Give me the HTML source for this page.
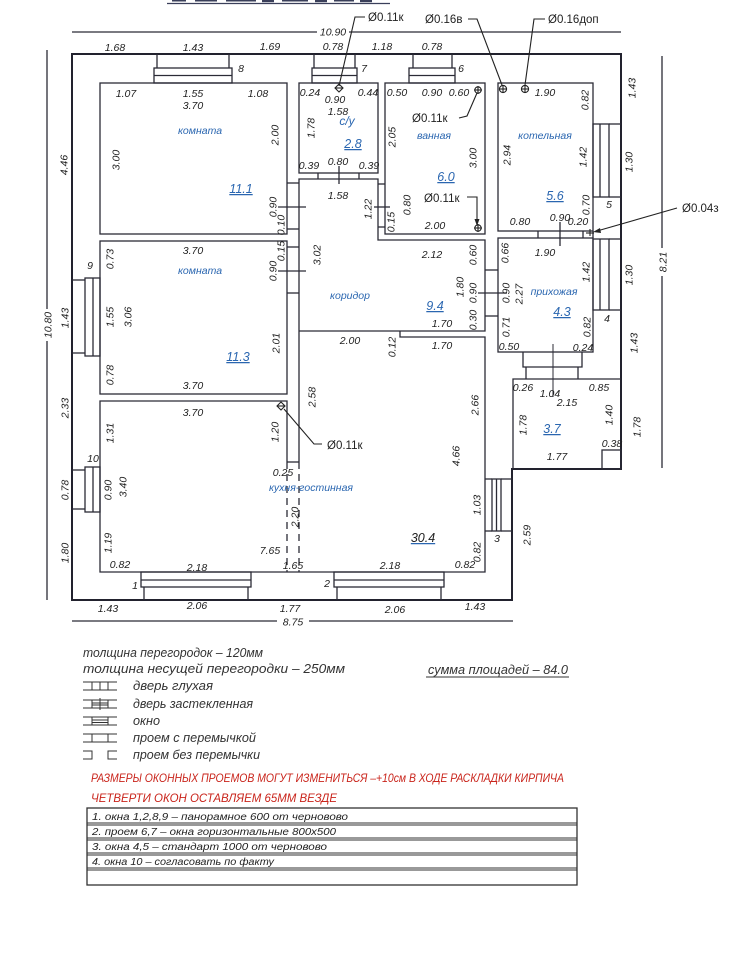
<!DOCTYPE html>
<html><head><meta charset="utf-8">
<style>
html,body{margin:0;padding:0;background:#fff;}
svg{display:block;}
.d{font-family:"Liberation Sans",sans-serif;font-style:italic;font-size:10.5px;fill:#222;}
.b{font-family:"Liberation Sans",sans-serif;font-style:italic;font-size:10.5px;fill:#2a66b0;}
.a{font-family:"Liberation Sans",sans-serif;font-style:italic;font-size:12.5px;fill:#2a66b0;text-decoration:underline;}
.p{font-family:"Liberation Sans",sans-serif;font-size:11.5px;fill:#222;}
.l{font-family:"Liberation Sans",sans-serif;font-style:italic;font-size:12.5px;fill:#333;}
.r{font-family:"Liberation Sans",sans-serif;font-style:italic;font-size:12px;fill:#c9241b;}
.t{font-family:"Liberation Sans",sans-serif;font-style:italic;font-size:10px;fill:#222;}
</style></head><body>
<svg width="733" height="960" viewBox="0 0 733 960" xmlns="http://www.w3.org/2000/svg">
<rect width="733" height="960" fill="#fff"/>

<!-- cut-off title -->
<g fill="#3a3f5a">
<line x1="167" y1="3.5" x2="390" y2="3.5" stroke="#3a3f5a" stroke-width="1.3"/>
<rect x="172" y="0" width="14" height="1.5"/><rect x="195" y="0" width="22" height="1.5"/>
<rect x="226" y="0" width="30" height="1.5"/><rect x="262" y="0" width="12" height="2.2"/>
<rect x="282" y="0" width="26" height="1.5"/><rect x="315" y="0" width="12" height="2.2"/>
<rect x="334" y="0" width="20" height="1.5"/><rect x="360" y="0" width="12" height="2.2"/>
</g>

<g stroke="#2b2b36" fill="none" stroke-width="1.3">
<!-- dimension lines -->
<line x1="72" y1="32" x2="621" y2="32"/>
<line x1="47" y1="50" x2="47" y2="600"/>
<line x1="662" y1="56" x2="662" y2="468"/>
<line x1="72" y1="621" x2="513" y2="621"/>

<!-- outer wall -->
<polygon points="72,54 621,54 621,469 512,469 512,600 72,600" stroke-width="2" stroke="#22222e"/>

<!-- rooms -->
<rect x="100" y="83" width="187" height="151"/>
<rect x="299" y="83" width="79" height="90"/>
<rect x="385" y="83" width="100" height="151"/>
<rect x="498" y="83" width="95" height="148"/>
<rect x="100" y="241" width="187" height="153"/>
<rect x="498" y="238" width="95" height="114"/>
<polyline points="621,379 513,379 513,469"/>
<polyline points="287,462 287,401 100,401 100,572 485,572 485,337 400,337 400,331"/>
<!-- corridor -->
<polyline points="299,462 299,179 378,179 378,240 485,240 485,331 299,331"/>
<line x1="287" y1="462" x2="299" y2="462"/>
<line x1="287" y1="462" x2="287" y2="572" stroke-dasharray="7,5"/>
<line x1="299" y1="462" x2="299" y2="572" stroke-dasharray="7,5"/>
<!-- 3.7 small square -->
<rect x="602" y="450" width="19" height="19"/>

<!-- doors -->
<line x1="287" y1="183" x2="299" y2="183"/><line x1="287" y1="229" x2="299" y2="229"/><line x1="278" y1="207" x2="306" y2="207"/>
<line x1="287" y1="247" x2="299" y2="247"/><line x1="287" y1="293" x2="299" y2="293"/><line x1="278" y1="271" x2="306" y2="271"/>
<line x1="318" y1="173" x2="318" y2="179"/><line x1="359" y1="173" x2="359" y2="179"/><line x1="339" y1="166" x2="339" y2="184"/>
<line x1="378" y1="184" x2="385" y2="184"/><line x1="378" y1="227" x2="385" y2="227"/><line x1="374" y1="207" x2="390" y2="207"/>
<line x1="485" y1="270" x2="498" y2="270"/><line x1="485" y1="316" x2="498" y2="316"/><line x1="478" y1="293" x2="507" y2="293"/>
<line x1="538" y1="231" x2="538" y2="238"/><line x1="583" y1="231" x2="583" y2="238"/><line x1="560" y1="222" x2="560" y2="246"/>
<line x1="593" y1="231" x2="593" y2="238"/>
<polyline points="523,352 523,367 582,367 582,352"/>
<line x1="526" y1="367" x2="526" y2="379"/><line x1="578" y1="367" x2="578" y2="379"/>
<line x1="553" y1="344" x2="553" y2="397" stroke-width="1"/>

<!-- windows top -->
<line x1="157" y1="54" x2="157" y2="68"/><line x1="229" y1="54" x2="229" y2="68"/>
<rect x="154" y="68" width="78" height="15"/><line x1="154" y1="75.5" x2="232" y2="75.5"/>
<line x1="314" y1="54" x2="314" y2="68"/><line x1="355" y1="54" x2="355" y2="68"/>
<rect x="312" y="68" width="45" height="15"/><line x1="312" y1="75.5" x2="357" y2="75.5"/>
<line x1="413" y1="54" x2="413" y2="68"/><line x1="452" y1="54" x2="452" y2="68"/>
<rect x="409" y="68" width="46" height="15"/><line x1="409" y1="75.5" x2="455" y2="75.5"/>
<!-- windows right -->
<rect x="593" y="124" width="16" height="73"/><line x1="600" y1="124" x2="600" y2="197"/>
<line x1="609" y1="124" x2="621" y2="124"/><line x1="609" y1="197" x2="621" y2="197"/>
<rect x="593" y="239" width="16" height="71"/><line x1="600" y1="239" x2="600" y2="310"/>
<line x1="609" y1="239" x2="621" y2="239"/><line x1="609" y1="310" x2="621" y2="310"/>
<!-- windows left -->
<rect x="85" y="278" width="15" height="78"/><line x1="93" y1="278" x2="93" y2="356"/>
<line x1="72" y1="280" x2="85" y2="280"/><line x1="72" y1="353" x2="85" y2="353"/>
<rect x="85" y="467" width="15" height="45"/><line x1="93" y1="467" x2="93" y2="512"/>
<line x1="72" y1="470" x2="85" y2="470"/><line x1="72" y1="509" x2="85" y2="509"/>
<!-- windows bottom -->
<rect x="141" y="572" width="110" height="15"/><line x1="141" y1="580" x2="251" y2="580"/>
<line x1="144" y1="587" x2="144" y2="600"/><line x1="248" y1="587" x2="248" y2="600"/>
<rect x="334" y="572" width="110" height="15"/><line x1="334" y1="580" x2="444" y2="580"/>
<line x1="337" y1="587" x2="337" y2="600"/><line x1="441" y1="587" x2="441" y2="600"/>
<!-- window 3 -->
<rect x="492" y="479" width="9" height="52"/><line x1="496.5" y1="479" x2="496.5" y2="531"/>
<line x1="501" y1="479" x2="512" y2="479"/><line x1="501" y1="531" x2="512" y2="531"/>
<line x1="485" y1="479" x2="492" y2="479"/><line x1="485" y1="531" x2="492" y2="531"/>
</g>

<!-- pipe leaders -->
<g stroke="#222" fill="none" stroke-width="1.1">
<polyline points="339,86 355,17 365,17"/>
<polyline points="468,19 477,19 502,85"/>
<polyline points="545,19 534,19 525,85"/>
<polyline points="459,118 467,116 477,93"/>
<polyline points="467,197 477,197 477,222"/>
<line x1="677" y1="208" x2="597" y2="231"/>
<polyline points="322,444 314,444 284,409"/>
<!-- symbols -->
<circle cx="503" cy="89" r="3.6"/><line x1="499.4" y1="89" x2="506.6" y2="89"/><line x1="503" y1="85.4" x2="503" y2="92.6"/>
<circle cx="525" cy="89" r="3.6"/><line x1="521.4" y1="89" x2="528.6" y2="89"/><line x1="525" y1="85.4" x2="525" y2="92.6"/>
<circle cx="478" cy="90" r="3.2"/><line x1="474" y1="90" x2="482" y2="90"/><line x1="478" y1="86" x2="478" y2="94"/>
<circle cx="478" cy="228" r="3.2"/><line x1="474" y1="228" x2="482" y2="228"/><line x1="478" y1="224" x2="478" y2="232"/>
<polygon points="339,84 343,88 339,92 335,88"/><line x1="335" y1="88" x2="343" y2="88"/>
<polygon points="281,402 285,406 281,410 277,406"/><line x1="277" y1="406" x2="285" y2="406"/>
<line x1="590" y1="229" x2="590" y2="236"/><line x1="586" y1="233" x2="594" y2="233"/>
</g>
<polygon points="477,226 474.5,219 479.5,219" fill="#222"/>
<polygon points="593,232 600,228 601,233" fill="#222"/>

<!-- big dimension labels -->
<rect x="317" y="26" width="32" height="11" fill="#fff"/>
<text class="d" x="333" y="32" text-anchor="middle" dy="0.35em">10.90</text>
<rect x="277" y="616" width="32" height="11" fill="#fff"/>
<text class="d" x="293" y="622" text-anchor="middle" dy="0.35em">8.75</text>
<rect x="41" y="309" width="12" height="32" fill="#fff"/>
<text class="d" transform="translate(48,325) rotate(-90)" text-anchor="middle" dy="0.35em">10.80</text>
<rect x="656" y="248" width="12" height="28" fill="#fff"/>
<text class="d" transform="translate(663,262) rotate(-90)" text-anchor="middle" dy="0.35em">8.21</text>

<g class="d" text-anchor="middle">
<!-- top -->
<text x="115" y="51">1.68</text><text x="193" y="51">1.43</text><text x="270" y="50">1.69</text>
<text x="333" y="50">0.78</text><text x="382" y="50">1.18</text><text x="432" y="50">0.78</text>
<!-- bottom -->
<text x="108" y="612">1.43</text><text x="197" y="609">2.06</text><text x="290" y="612">1.77</text>
<text x="395" y="613">2.06</text><text x="475" y="610">1.43</text>
<!-- window numbers -->
<text x="241" y="72">8</text><text x="364" y="72">7</text><text x="461" y="72">6</text>
<text x="609" y="208">5</text><text x="607" y="322">4</text><text x="90" y="269">9</text>
<text x="93" y="462">10</text><text x="135" y="589">1</text><text x="327" y="587">2</text><text x="497" y="542">3</text>
<!-- room 1 -->
<text x="126" y="97">1.07</text><text x="193" y="97">1.55</text><text x="193" y="109">3.70</text><text x="258" y="97">1.08</text>
<!-- s/u -->
<text x="310" y="96">0.24</text><text x="335" y="103">0.90</text><text x="368" y="96">0.44</text><text x="338" y="115">1.58</text>
<text x="309" y="169">0.39</text><text x="338" y="165">0.80</text><text x="369" y="169">0.39</text>
<text x="338" y="199">1.58</text>
<!-- bath -->
<text x="397" y="96">0.50</text><text x="432" y="96">0.90</text><text x="459" y="96">0.60</text><text x="435" y="229">2.00</text>
<!-- boiler -->
<text x="545" y="96">1.90</text><text x="520" y="225">0.80</text><text x="560" y="221">0.90</text><text x="578" y="225">0.20</text>
<!-- room 2 -->
<text x="193" y="254">3.70</text><text x="193" y="389">3.70</text>
<!-- corridor -->
<text x="432" y="258">2.12</text><text x="442" y="327">1.70</text><text x="350" y="344">2.00</text><text x="442" y="349">1.70</text>
<!-- hall -->
<text x="545" y="256">1.90</text><text x="509" y="350">0.50</text><text x="583" y="351">0.24</text>
<!-- 3.7 -->
<text x="523" y="391">0.26</text><text x="550" y="397">1.04</text><text x="567" y="406">2.15</text><text x="599" y="391">0.85</text>
<text x="612" y="447">0.38</text><text x="557" y="460">1.77</text>
<!-- room 3 / kitchen -->
<text x="193" y="416">3.70</text><text x="120" y="568">0.82</text><text x="197" y="571">2.18</text>
<text x="283" y="476">0.25</text><text x="270" y="554">7.65</text><text x="293" y="569">1.65</text>
<text x="390" y="569">2.18</text><text x="465" y="568">0.82</text>
</g>

<!-- vertical labels -->
<g class="d" text-anchor="middle">
<text transform="translate(64,165) rotate(-90)" dy="0.35em">4.46</text>
<text transform="translate(65,318) rotate(-90)" dy="0.35em">1.43</text>
<text transform="translate(65,408) rotate(-90)" dy="0.35em">2.33</text>
<text transform="translate(65,490) rotate(-90)" dy="0.35em">0.78</text>
<text transform="translate(65,553) rotate(-90)" dy="0.35em">1.80</text>
<text transform="translate(632,88) rotate(-90)" dy="0.35em">1.43</text>
<text transform="translate(629,162) rotate(-90)" dy="0.35em">1.30</text>
<text transform="translate(629,275) rotate(-90)" dy="0.35em">1.30</text>
<text transform="translate(634,343) rotate(-90)" dy="0.35em">1.43</text>
<text transform="translate(637,427) rotate(-90)" dy="0.35em">1.78</text>
<text transform="translate(527,535) rotate(-90)" dy="0.35em">2.59</text>
<!-- room1 -->
<text transform="translate(116,160) rotate(-90)" dy="0.35em">3.00</text>
<text transform="translate(275,135) rotate(-90)" dy="0.35em">2.00</text>
<text transform="translate(273,207) rotate(-90)" dy="0.35em">0.90</text>
<text transform="translate(281,225) rotate(-90)" dy="0.35em">0.10</text>
<!-- s/u -->
<text transform="translate(311,128) rotate(-90)" dy="0.35em">1.78</text>
<text transform="translate(368,209) rotate(-90)" dy="0.35em">1.22</text>
<!-- bath -->
<text transform="translate(392,137) rotate(-90)" dy="0.35em">2.05</text>
<text transform="translate(473,158) rotate(-90)" dy="0.35em">3.00</text>
<text transform="translate(407,205) rotate(-90)" dy="0.35em">0.80</text>
<text transform="translate(391,222) rotate(-90)" dy="0.35em">0.15</text>
<!-- boiler -->
<text transform="translate(585,100) rotate(-90)" dy="0.35em">0.82</text>
<text transform="translate(507,155) rotate(-90)" dy="0.35em">2.94</text>
<text transform="translate(583,157) rotate(-90)" dy="0.35em">1.42</text>
<text transform="translate(586,205) rotate(-90)" dy="0.35em">0.70</text>
<!-- room 2 -->
<text transform="translate(110,259) rotate(-90)" dy="0.35em">0.73</text>
<text transform="translate(281,251) rotate(-90)" dy="0.35em">0.15</text>
<text transform="translate(273,271) rotate(-90)" dy="0.35em">0.90</text>
<text transform="translate(110,317) rotate(-90)" dy="0.35em">1.55</text>
<text transform="translate(128,317) rotate(-90)" dy="0.35em">3.06</text>
<text transform="translate(276,343) rotate(-90)" dy="0.35em">2.01</text>
<text transform="translate(110,375) rotate(-90)" dy="0.35em">0.78</text>
<!-- corridor -->
<text transform="translate(317,255) rotate(-90)" dy="0.35em">3.02</text>
<text transform="translate(473,255) rotate(-90)" dy="0.35em">0.60</text>
<text transform="translate(460,287) rotate(-90)" dy="0.35em">1.80</text>
<text transform="translate(473,293) rotate(-90)" dy="0.35em">0.90</text>
<text transform="translate(473,320) rotate(-90)" dy="0.35em">0.30</text>
<text transform="translate(392,347) rotate(-90)" dy="0.35em">0.12</text>
<!-- hall -->
<text transform="translate(505,253) rotate(-90)" dy="0.35em">0.66</text>
<text transform="translate(586,272) rotate(-90)" dy="0.35em">1.42</text>
<text transform="translate(506,293) rotate(-90)" dy="0.35em">0.90</text>
<text transform="translate(519,294) rotate(-90)" dy="0.35em">2.27</text>
<text transform="translate(506,327) rotate(-90)" dy="0.35em">0.71</text>
<text transform="translate(587,327) rotate(-90)" dy="0.35em">0.82</text>
<!-- 3.7 -->
<text transform="translate(523,425) rotate(-90)" dy="0.35em">1.78</text>
<text transform="translate(609,415) rotate(-90)" dy="0.35em">1.40</text>
<!-- kitchen -->
<text transform="translate(312,397) rotate(-90)" dy="0.35em">2.58</text>
<text transform="translate(475,405) rotate(-90)" dy="0.35em">2.66</text>
<text transform="translate(456,456) rotate(-90)" dy="0.35em">4.66</text>
<text transform="translate(477,505) rotate(-90)" dy="0.35em">1.03</text>
<text transform="translate(477,552) rotate(-90)" dy="0.35em">0.82</text>
<text transform="translate(295,517) rotate(-90)" dy="0.35em">2.20</text>
<!-- room 3 -->
<text transform="translate(110,433) rotate(-90)" dy="0.35em">1.31</text>
<text transform="translate(275,432) rotate(-90)" dy="0.35em">1.20</text>
<text transform="translate(108,490) rotate(-90)" dy="0.35em">0.90</text>
<text transform="translate(123,487) rotate(-90)" dy="0.35em">3.40</text>
<text transform="translate(108,543) rotate(-90)" dy="0.35em">1.19</text>
</g>

<!-- room names -->
<g class="b" text-anchor="middle">
<text x="200" y="134">комната</text>
<text x="200" y="274">комната</text>
<text x="347" y="125" font-size="12">с/у</text>
<text x="434" y="139">ванная</text>
<text x="545" y="139">котельная</text>
<text x="350" y="299">коридор</text>
<text x="554" y="295">прихожая</text>
<text x="311" y="491">кухня-гостинная</text>
</g>
<g class="a" text-anchor="middle">
<text x="241" y="193">11.1</text>
<text x="353" y="148">2.8</text>
<text x="446" y="181">6.0</text>
<text x="555" y="200">5.6</text>
<text x="435" y="310">9.4</text>
<text x="562" y="316">4.3</text>
<text x="238" y="361">11.3</text>
<text x="552" y="433">3.7</text>
<text x="423" y="542" style="fill:#222">30.4</text>
</g>

<!-- pipe labels -->
<g class="p">
<text x="368" y="21">Ø0.11к</text>
<text x="425" y="23">Ø0.16в</text>
<text x="548" y="23">Ø0.16доп</text>
<text x="412" y="122">Ø0.11к</text>
<text x="424" y="202">Ø0.11к</text>
<text x="682" y="212">Ø0.04з</text>
<text x="327" y="449">Ø0.11к</text>
</g>

<!-- legend -->
<text class="l" x="83" y="657" textLength="180" lengthAdjust="spacingAndGlyphs">толщина перегородок – 120мм</text>
<text class="l" x="83" y="673" textLength="262" lengthAdjust="spacingAndGlyphs">толщина несущей перегородки – 250мм</text>
<text class="l" x="428" y="674" textLength="140" lengthAdjust="spacingAndGlyphs">сумма площадей – 84.0</text>
<line x1="426" y1="677" x2="569" y2="677" stroke="#333" stroke-width="1"/>

<g stroke="#333" stroke-width="1" fill="none">
<!-- дверь глухая y=686 -->
<line x1="83" y1="682" x2="117" y2="682"/><line x1="83" y1="690" x2="117" y2="690"/>
<line x1="92" y1="682" x2="92" y2="690"/><line x1="108" y1="682" x2="108" y2="690"/>
<line x1="100" y1="682" x2="100" y2="690"/>
<!-- застекленная y=704 -->
<line x1="83" y1="700" x2="117" y2="700"/><line x1="83" y1="708" x2="117" y2="708"/>
<line x1="92" y1="700" x2="92" y2="708"/><line x1="108" y1="700" x2="108" y2="708"/>
<line x1="92" y1="703" x2="108" y2="703"/><line x1="92" y1="705" x2="108" y2="705"/>
<line x1="100" y1="698" x2="100" y2="710"/>
<!-- окно y=721 -->
<line x1="83" y1="717" x2="117" y2="717"/><line x1="83" y1="725" x2="117" y2="725"/>
<rect x="92" y="717" width="16" height="8"/>
<line x1="92" y1="720" x2="108" y2="720"/><line x1="92" y1="722.5" x2="108" y2="722.5"/>
<!-- проем с перемычкой y=738 -->
<line x1="83" y1="734" x2="117" y2="734"/><line x1="83" y1="742" x2="117" y2="742"/>
<line x1="92" y1="734" x2="92" y2="742"/><line x1="108" y1="734" x2="108" y2="742"/>
<!-- без перемычки y=755 -->
<polyline points="83,751 92,751 92,759 83,759"/>
<polyline points="117,751 108,751 108,759 117,759"/>
</g>
<g class="l">
<text x="133" y="690" textLength="80" lengthAdjust="spacingAndGlyphs">дверь глухая</text>
<text x="133" y="708" textLength="120" lengthAdjust="spacingAndGlyphs">дверь застекленная</text>
<text x="133" y="725" textLength="27" lengthAdjust="spacingAndGlyphs">окно</text>
<text x="133" y="742" textLength="123" lengthAdjust="spacingAndGlyphs">проем с перемычкой</text>
<text x="133" y="759" textLength="127" lengthAdjust="spacingAndGlyphs">проем без перемычки</text>
</g>

<!-- red notes -->
<text class="r" x="91" y="782" textLength="473" lengthAdjust="spacingAndGlyphs">РАЗМЕРЫ ОКОННЫХ ПРОЕМОВ МОГУТ ИЗМЕНИТЬСЯ –+10см В ХОДЕ РАСКЛАДКИ КИРПИЧА</text>
<text class="r" x="91" y="802" textLength="246" lengthAdjust="spacingAndGlyphs">ЧЕТВЕРТИ ОКОН ОСТАВЛЯЕМ 65ММ ВЕЗДЕ</text>

<!-- table -->
<g stroke="#333" fill="none">
<rect x="87" y="808" width="490" height="77" stroke-width="1.3"/>
<line x1="87" y1="823" x2="577" y2="823" stroke-width="1"/><line x1="87" y1="825" x2="577" y2="825" stroke-width="1"/>
<line x1="87" y1="838" x2="577" y2="838" stroke-width="1"/><line x1="87" y1="840" x2="577" y2="840" stroke-width="1"/>
<line x1="87" y1="853" x2="577" y2="853" stroke-width="1"/><line x1="87" y1="855" x2="577" y2="855" stroke-width="1"/>
<line x1="87" y1="868" x2="577" y2="868" stroke-width="1"/><line x1="87" y1="870" x2="577" y2="870" stroke-width="1"/>
</g>
<g class="t">
<text x="92" y="820" textLength="256" lengthAdjust="spacingAndGlyphs">1. окна 1,2,8,9 – панорамное 600 от черновово</text>
<text x="92" y="835" textLength="244" lengthAdjust="spacingAndGlyphs">2. проем 6,7 – окна горизонтальные 800х500</text>
<text x="92" y="850" textLength="235" lengthAdjust="spacingAndGlyphs">3. окна 4,5 – стандарт 1000 от черновово</text>
<text x="92" y="865" textLength="182" lengthAdjust="spacingAndGlyphs">4. окна 10 – согласовать по факту</text>
</g>
</svg>
</body></html>
